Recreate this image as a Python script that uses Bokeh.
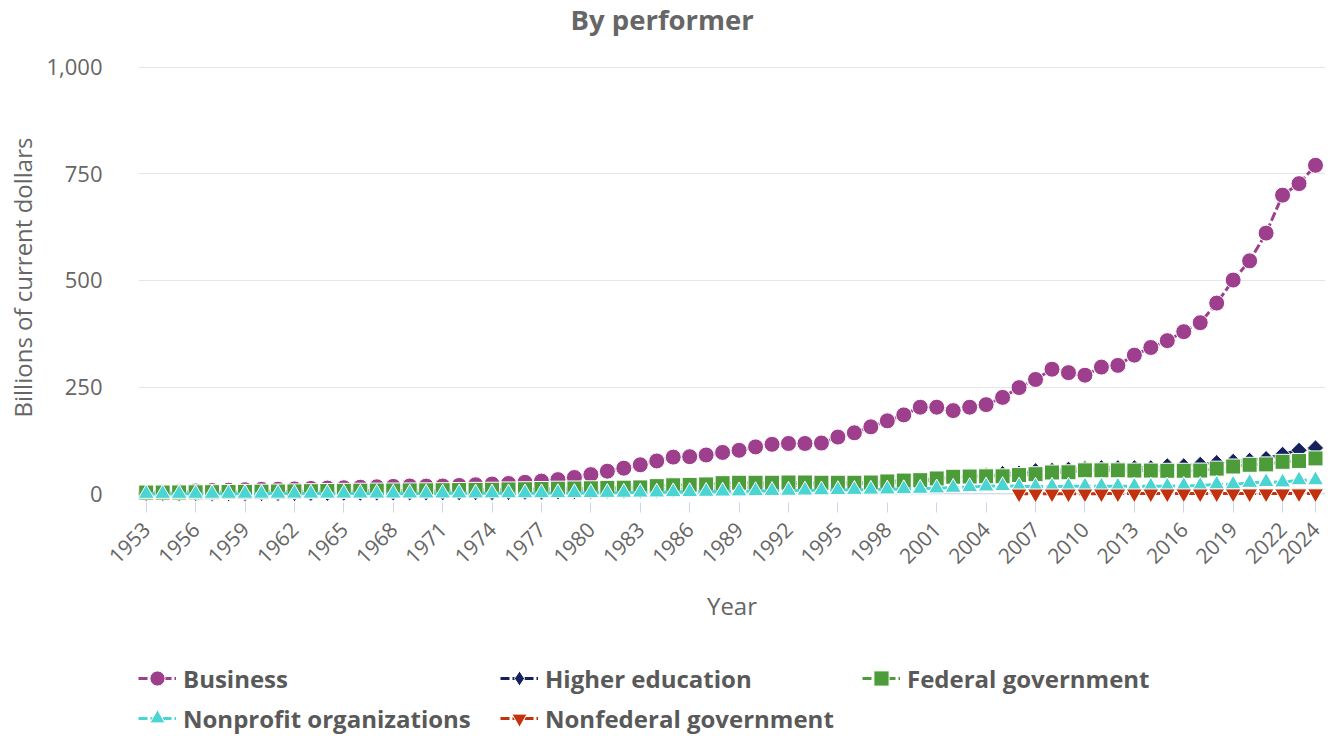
import math
from bokeh.plotting import figure
from bokeh.layouts import column
from bokeh.models import (Range1d, FixedTicker, NumeralTickFormatter, Legend,
                          LegendItem, Span, ColumnDataSource, Title)
from bokeh.embed import file_html
from bokeh.resources import INLINE

# ---------------- data (billions of current dollars) ----------------
years = list(range(1953, 2025))
nonfederal_years = list(range(2006, 2025))

business = [3.6, 4.1, 4.6, 6.6, 7.7, 8.4, 9.6, 10.5, 10.9, 11.5,
            12.6, 13.5, 14.2, 15.5, 16.4, 17.4, 18.3, 18.1, 18.3, 19.6,
            21.2, 22.9, 24.2, 27.0, 29.8, 33.3, 38.2, 45.0, 53.0, 60.0,
            68.0, 77.0, 86.0, 87.0, 91.0, 97.0, 102.0, 110.0, 116.0, 118.0,
            118.0, 119.0, 133.0, 143.0, 157.0, 171.0, 185.0, 203.0, 203.0, 195.0,
            203.0, 209.0, 226.0, 249.0, 268.0, 292.0, 284.0, 278.0, 297.0, 301.0,
            325.0, 343.0, 359.0, 380.0, 401.0, 447.0, 501.0, 546.0, 611.0, 700.0,
            727.0, 770.0]

higher_education = [0.4, 0.4, 0.45, 0.5, 0.55, 0.6, 0.7, 0.8, 0.9, 1.0,
                    1.2, 1.4, 1.6, 1.8, 2.0, 2.2, 2.3, 2.5, 2.6, 2.7,
                    2.9, 3.0, 3.4, 3.7, 4.1, 4.6, 5.4, 6.1, 6.8, 7.3,
                    8.0, 8.9, 10.0, 11.3, 12.5, 14.0, 15.5, 17.0, 18.5, 19.5,
                    20.5, 21.5, 22.5, 23.5, 24.5, 26.0, 28.0, 30.5, 33.0, 37.0,
                    40.0, 43.0, 47.5, 48.5, 54.0, 55.0, 57.5, 59.0, 61.0, 61.0,
                    61.0, 61.0, 65.5, 65.5, 69.0, 73.0, 76.0, 78.5, 82.5, 92.5,
                    102.0, 107.5]

federal_government = [3.0, 3.0, 3.2, 3.5, 3.8, 4.2, 4.6, 5.0, 5.3, 5.7,
                      6.2, 6.6, 7.0, 7.3, 7.6, 7.8, 8.0, 8.2, 8.5, 8.9,
                      9.2, 9.6, 10.3, 10.8, 11.3, 12.0, 12.5, 13.0, 14.0, 14.5,
                      15.0, 18.0, 20.0, 21.0, 22.0, 25.0, 26.0, 26.0, 26.0, 26.5,
                      26.5, 26.0, 26.0, 26.0, 26.5, 29.0, 31.0, 32.0, 36.0, 40.0,
                      40.5, 41.0, 41.0, 44.0, 46.0, 50.0, 50.5, 55.0, 55.0, 55.0,
                      54.5, 54.5, 54.0, 54.0, 54.5, 59.0, 64.0, 68.0, 69.0, 75.0,
                      77.0, 83.0]

nonprofit = [0.2, 0.2, 0.25, 0.3, 0.35, 0.4, 0.45, 0.5, 0.55, 0.6,
             0.65, 0.7, 0.75, 0.8, 0.85, 0.9, 0.95, 1.0, 1.05, 1.1,
             1.2, 1.3, 1.4, 1.5, 1.6, 1.8, 2.0, 2.2, 2.5, 2.8,
             3.1, 3.5, 4.0, 4.5, 5.0, 5.5, 6.0, 6.5, 7.0, 7.5,
             8.0, 8.5, 9.0, 9.5, 10.0, 10.5, 11.2, 12.0, 13.0, 14.5,
             16.0, 17.5, 18.5, 17.5, 17.0, 17.0, 17.5, 18.0, 18.0, 17.5,
             17.5, 17.5, 17.5, 19.0, 19.0, 22.0, 22.0, 26.0, 28.0, 27.0,
             32.0, 32.0]

nonfederal_government = [0.4, 0.4, 0.4, 0.45, 0.45, 0.45, 0.5, 0.5, 0.5, 0.55,
                         0.6, 0.6, 0.6, 0.65, 0.7, 0.7, 0.75, 0.8, 0.85]

x_ticks = [1953, 1956, 1959, 1962, 1965, 1968, 1971, 1974, 1977, 1980, 1983,
           1986, 1989, 1992, 1995, 1998, 2001, 2004, 2007, 2010, 2013, 2016,
           2019, 2022, 2024]
y_ticks = [0, 250, 500, 750, 1000]

series_names = ["Business", "Higher education", "Federal government",
                "Nonprofit organizations", "Nonfederal government"]

FONT = "Open Sans"
TEXT = "#666666"

# ---------------- main chart ----------------
p = figure(width=1330, height=658, output_backend="svg", toolbar_location=None,
           x_range=Range1d(1952.532, 2024.607), y_range=Range1d(-20.35, 1064.8),
           min_border_left=138, min_border_right=5, min_border_top=38,
           min_border_bottom=156)
p.outline_line_color = None
p.background_fill_color = "white"
p.border_fill_color = "white"

p.title.text = "By performer"
p.title.align = "left"
p.title.offset = 432
p.title.standoff = 0
p.title.vertical_align = "top"
p.title.text_font = FONT
p.title.text_font_size = "27.5px"
p.title.text_font_style = "bold"
p.title.text_color = TEXT

p.xgrid.grid_line_color = None
p.ygrid.grid_line_color = "#e6e6e6"
p.ygrid.grid_line_width = 1

p.xaxis.ticker = FixedTicker(ticks=x_ticks)
p.xaxis.major_label_orientation = math.pi / 4
p.xaxis.major_label_text_font = FONT
p.xaxis.major_label_text_font_size = "21px"
p.xaxis.major_label_text_color = TEXT
p.xaxis.axis_line_color = None
p.xaxis.major_tick_line_color = "#ccd6eb"
p.xaxis.major_tick_out = 10
p.xaxis.major_tick_in = 0
p.xaxis.minor_tick_line_color = None
p.xaxis.major_label_standoff = 13
p.xaxis.axis_label = "Year"
p.xaxis.axis_label_text_font = FONT
p.xaxis.axis_label_text_font_size = "24px"
p.xaxis.axis_label_text_font_style = "normal"
p.xaxis.axis_label_text_color = TEXT
p.xaxis.axis_label_standoff = 15

p.yaxis.ticker = FixedTicker(ticks=y_ticks)
p.yaxis.formatter = NumeralTickFormatter(format="0,0")
p.yaxis.major_label_text_font = FONT
p.yaxis.major_label_text_font_size = "22px"
p.yaxis.major_label_text_color = TEXT
p.yaxis.axis_line_color = None
p.yaxis.major_tick_line_color = None
p.yaxis.minor_tick_line_color = None
p.yaxis.major_label_standoff = 30

p.add_layout(Title(text="Billions of current dollars", align="left", offset=85,
                   vertical_align="middle", standoff=8, text_font=FONT,
                   text_font_size="24px", text_font_style="normal",
                   text_color=TEXT), "left")

p.add_layout(Span(location=0, dimension="width", line_color="#ccd6eb",
                  line_width=1, level="underlay"))

styles = [
    ("#9e3f8e", "circle", 16, 0.0),
    ("#14215b", "square", 11.5, math.pi / 4),
    ("#4c9c39", "square", 15, 0.0),
    ("#4ad4d2", "triangle", 16, 0.0),
    ("#c2320f", "inverted_triangle", 16, 0.0),
]
legend_markers = ["circle", "diamond", "square", "triangle", "inverted_triangle"]
data = [(years, business), (years, higher_education), (years, federal_government),
        (years, nonprofit), (nonfederal_years, nonfederal_government)]

sources = []
for (xs, ys), (color, marker, size, angle) in zip(data, styles):
    src = ColumnDataSource(dict(x=xs, y=ys))
    sources.append(src)
    p.line("x", "y", source=src, line_color=color, line_width=3, line_dash="9 3")
    p.scatter("x", "y", source=src, marker=marker, size=size, angle=angle,
              fill_color=color, line_color="white", line_width=1)

# ---------------- legend strip (same series, ranges keep marks out of view) ----
lg = figure(width=1330, height=76, output_backend="svg", toolbar_location=None,
            x_range=Range1d(0, 1), y_range=Range1d(0, 1),
            x_axis_location=None, y_axis_location=None,
            min_border_left=0, min_border_right=0, min_border_top=0,
            min_border_bottom=0)
lg.outline_line_color = None
lg.grid.visible = False
lg.background_fill_color = "white"
lg.border_fill_color = "white"

items = []
for name, src, lm, (color, marker, size, angle) in zip(series_names, sources,
                                                      legend_markers, styles):
    lr = lg.line("x", "y", source=src, line_color=color, line_width=3, line_dash="9 3")
    sr = lg.scatter("x", "y", source=src, marker=lm, size=size,
                    fill_color=color, line_color="white", line_width=1)
    items.append(LegendItem(label=name, renderers=[lr, sr]))

legend = Legend(items=items, location=(0, -4), orientation="horizontal", ncols=3,
                glyph_width=38, glyph_height=40, label_height=40, label_width=317,
                label_standoff=7, spacing=0, padding=0, margin=0,
                border_line_color=None, background_fill_alpha=0,
                label_text_font=FONT, label_text_font_size="24px",
                label_text_font_style="bold", label_text_color="#595959",
                label_text_baseline="middle")
lg.add_layout(legend, "center")

layout = column(p, lg, spacing=0)
open("out.html", "w").write(file_html(layout, INLINE))
